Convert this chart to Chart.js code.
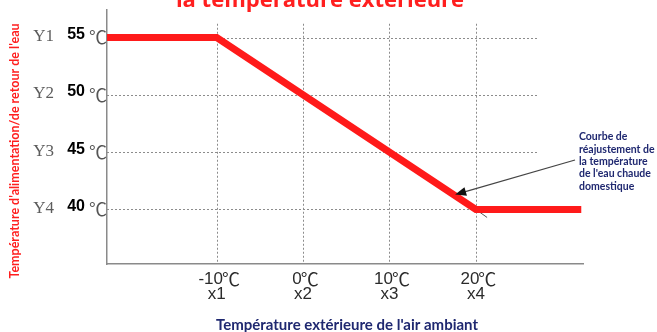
<!DOCTYPE html>
<html>
<head>
<meta charset="utf-8">
<script src="https://cdn.jsdelivr.net/npm/chart.js@4"></script>
<style>
  html, body { margin: 0; padding: 0; background: #fff; }
  #wrap { width: 657px; height: 332px; }
</style>
</head>
<body>
<div id="wrap"><canvas id="courbe"></canvas></div>
<script>
// axes : température extérieure (x) / température de l'eau (y)
const xTicks = [-10, 0, 10, 20];
const xNames = ['x1', 'x2', 'x3', 'x4'];
const yTicks = [55, 50, 45, 40];
const yNames = ['Y1', 'Y2', 'Y3', 'Y4'];

// courbe de réajustement
const curveX = [-22.7, -10, 20, 32.2];
const curveY = [55, 55, 40, 40];

const xRange = [-22.7, 32.4];
const yRange = [35.24, 57.4];

const titre = 'la température extérieure';
const titreX = "Température extérieure de l'air ambiant";
const titreY = "Température d'alimentation/de retour de l'eau";
const note = ['Courbe de', 'réajustement de', 'la température', "de l'eau chaude", 'domestique'];

// la flèche pointe sur la courbe, les pointillés s'arrêtent ici
const notePoint = [17.6, 41.3];
const gridEndX = 27.3;
const gridTopY = 56.2;

const CJK = '"Noto Sans CJK SC"';

function line(ctx, x1, y1, x2, y2) {
    ctx.beginPath();
    ctx.moveTo(x1, y1);
    ctx.lineTo(x2, y2);
    ctx.stroke();
}

const decor = {
    id: 'decor',
    beforeDatasetsDraw(chart) {
        const { ctx, scales: { x, y } } = chart;
        ctx.save();
        ctx.strokeStyle = '#8c8c8c';
        ctx.lineWidth = 1;
        ctx.setLineDash([2, 2]);
        yTicks.forEach(v => {
            const py = Math.round(y.getPixelForValue(v)) + 0.5;
            line(ctx, x.left, py, x.getPixelForValue(gridEndX), py);
        });
        xTicks.forEach(v => {
            const px = Math.round(x.getPixelForValue(v)) + 0.5;
            line(ctx, px, y.getPixelForValue(gridTopY), px, y.bottom);
        });
        ctx.setLineDash([]);
        // petit trait après le coude
        ctx.strokeStyle = '#555';
        line(ctx, x.getPixelForValue(20), y.getPixelForValue(40),
            x.getPixelForValue(21.3), y.getPixelForValue(39.3));
        ctx.restore();
    },
    afterDraw(chart) {
        const { ctx, scales: { x, y } } = chart;
        ctx.save();
        ctx.textBaseline = 'middle';

        // étiquettes de l'axe y : Y1  55 ℃
        yTicks.forEach((v, i) => {
            const py = y.getPixelForValue(v);
            ctx.textAlign = 'right';
            ctx.fillStyle = '#5c5c5c';
            ctx.font = '17px "Liberation Serif"';
            ctx.fillText(yNames[i], 54, py - 1);
            ctx.fillStyle = '#000';
            ctx.font = 'bold 16px "Liberation Sans"';
            ctx.fillText(String(v), 85, py - 3);
            ctx.textAlign = 'left';
            ctx.fillStyle = '#555';
            ctx.font = '18px ' + CJK;
            ctx.fillText('℃', 89, py);
        });

        // étiquettes de l'axe x : nombre + ℃
        ctx.fillStyle = '#2b2b2b';
        xTicks.forEach((v, i) => {
            const px = x.getPixelForValue(v);
            ctx.font = '17px "Liberation Sans"';
            const wn = ctx.measureText(String(v)).width;
            ctx.font = '18px ' + CJK;
            const wd = ctx.measureText('℃').width;
            const x0 = px + 3 - (wn + wd) / 2;
            ctx.textAlign = 'left';
            ctx.font = '17px "Liberation Sans"';
            ctx.fillText(String(v), x0, y.bottom + 15);
            ctx.font = '18px ' + CJK;
            ctx.fillText('℃', x0 + wn - 1, y.bottom + 15);
            ctx.textAlign = 'center';
            ctx.font = '17px "Liberation Sans"';
            ctx.fillText(xNames[i], px, y.bottom + 30);
        });

        // titres
        ctx.textAlign = 'center';
        ctx.fillStyle = '#1f2870';
        ctx.font = 'bold 15px Lato';
        ctx.fillText(titreX, 347, y.bottom + 61);

        ctx.fillStyle = '#ff1f1f';
        ctx.font = 'bold 22px "Open Sans"';
        ctx.textBaseline = 'alphabetic';
        ctx.fillText(titre, 320, 7);

        ctx.save();
        ctx.translate(15, 151);
        ctx.rotate(-Math.PI / 2);
        ctx.textBaseline = 'middle';
        ctx.font = 'bold 12.5px Lato';
        ctx.fillText(titreY, 0, 0);
        ctx.restore();

        // note + flèche
        const nx = 579, ny = 137;
        ctx.textAlign = 'left';
        ctx.textBaseline = 'middle';
        ctx.fillStyle = '#1f2870';
        ctx.font = 'bold 10.5px Lato';
        note.forEach((t, i) => ctx.fillText(t, nx, ny + i * 12.3));

        const tx = x.getPixelForValue(notePoint[0]);
        const ty = y.getPixelForValue(notePoint[1]);
        const sx = nx - 4, sy = ny + 23;
        const a = Math.atan2(ty - sy, tx - sx);
        ctx.strokeStyle = '#444';
        ctx.lineWidth = 1.2;
        line(ctx, sx, sy, tx - 8 * Math.cos(a), ty - 8 * Math.sin(a));
        ctx.fillStyle = '#111';
        ctx.beginPath();
        ctx.moveTo(tx, ty);
        ctx.lineTo(tx - 11 * Math.cos(a) + 4.5 * Math.sin(a), ty - 11 * Math.sin(a) - 4.5 * Math.cos(a));
        ctx.lineTo(tx - 11 * Math.cos(a) - 4.5 * Math.sin(a), ty - 11 * Math.sin(a) + 4.5 * Math.cos(a));
        ctx.closePath();
        ctx.fill();
        ctx.restore();
    }
};

new Chart(document.getElementById('courbe'), {
    type: 'line',
    data: {
        datasets: [{
            data: curveX.map((v, i) => ({ x: v, y: curveY[i] })),
            borderColor: '#ff1a1a',
            borderWidth: 7,
            pointRadius: 0,
            tension: 0,
            borderJoinStyle: 'miter',
            borderCapStyle: 'butt'
        }]
    },
    options: {
        responsive: true,
        maintainAspectRatio: false,
        animation: false,
        layout: { padding: { left: 107, right: 74, top: 10, bottom: 68 } },
        scales: {
            x: {
                type: 'linear',
                min: xRange[0],
                max: xRange[1],
                grid: { display: false, drawTicks: false },
                ticks: { display: false },
                border: { color: '#8a8a8a', width: 1.5 }
            },
            y: {
                min: yRange[0],
                max: yRange[1],
                grid: { display: false, drawTicks: false },
                ticks: { display: false },
                border: { color: '#8a8a8a', width: 1.5 }
            }
        },
        plugins: {
            legend: { display: false },
            tooltip: { enabled: false }
        }
    },
    plugins: [decor]
});
</script>
</body>
</html>
